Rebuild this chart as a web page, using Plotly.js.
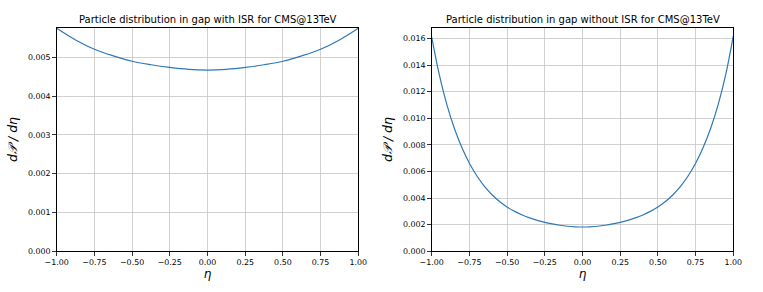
<!DOCTYPE html>
<html>
<head>
<meta charset="utf-8">
<script src="https://cdn.plot.ly/plotly-3.0.1.min.js"></script>
<style>html,body{margin:0;padding:0;background:#fff;}#chart{width:763px;height:292px;}</style>
</head>
<body>
<div id="chart"></div>
<script>
// Left panel: with ISR
const etaWith = [-1.0, -0.875, -0.75, -0.625, -0.5, -0.375, -0.25, -0.125, 0.0, 0.125, 0.25, 0.375, 0.5, 0.625, 0.75, 0.875, 1.0];
const dPWith = [0.00575, 0.00545, 0.00521, 0.00504, 0.00490, 0.00481, 0.00474, 0.00469, 0.00467, 0.00469, 0.00474, 0.00481, 0.00490, 0.00504, 0.00521, 0.00545, 0.00575];

// Right panel: without ISR
const etaWithout = [-1.0, -0.95, -0.9, -0.85, -0.8, -0.75, -0.7, -0.65, -0.6, -0.55, -0.5, -0.45, -0.4, -0.35, -0.3, -0.25, -0.2, -0.15, -0.1, -0.05, 0.0,
  0.05, 0.1, 0.15, 0.2, 0.25, 0.3, 0.35, 0.4, 0.45, 0.5, 0.55, 0.6, 0.65, 0.7, 0.75, 0.8, 0.85, 0.9, 0.95, 1.0];
const dPWithout = [0.0161, 0.0133, 0.01105, 0.00925, 0.0078, 0.00662, 0.00566, 0.00488, 0.00425, 0.00374, 0.00333, 0.0030, 0.00273, 0.00251, 0.00233, 0.00218, 0.00206, 0.00196, 0.001885, 0.00184, 0.001825,
  0.00184, 0.001885, 0.00196, 0.00206, 0.00218, 0.00233, 0.00251, 0.00273, 0.0030, 0.00333, 0.00374, 0.00425, 0.00488, 0.00566, 0.00662, 0.0078, 0.00925, 0.01105, 0.0133, 0.0162];

const titles = ["Particle distribution in gap with ISR for CMS@13TeV", "Particle distribution in gap without ISR for CMS@13TeV"];
const xTicks = [-1.0, -0.75, -0.5, -0.25, 0.0, 0.25, 0.5, 0.75, 1.0];
const yTicksLeft = [0, 0.001, 0.002, 0.003, 0.004, 0.005];
const yTicksRight = [0, 0.002, 0.004, 0.006, 0.008, 0.010, 0.012, 0.014, 0.016];

const W = 763, H = 292;
const font = "DejaVu Sans, sans-serif";
const lineColor = "#2f78b6";

const traces = [
  {x: etaWith, y: dPWith, type: "scatter", mode: "lines", line: {color: lineColor, width: 1.2, shape: "spline"}, xaxis: "x", yaxis: "y", hoverinfo: "skip"},
  {x: etaWithout, y: dPWithout, type: "scatter", mode: "lines", line: {color: lineColor, width: 1.2, shape: "spline"}, xaxis: "x2", yaxis: "y2", hoverinfo: "skip"}
];

function xax(domain, anchor) {
  return {
    domain: domain, anchor: anchor, range: [-1, 1],
    tickmode: "array", tickvals: xTicks, ticktext: xTicks.map(v => (v < 0 ? "\u2212" : "") + Math.abs(v).toFixed(2)),
    ticks: "outside", ticklen: 3.5, tickwidth: 0.8, tickcolor: "#000",
    showline: true, linecolor: "#000", linewidth: 1, mirror: true,
    showgrid: true, gridcolor: "#c4c4c4", gridwidth: 0.8, zeroline: false,
    tickfont: {family: font, size: 7.9, color: "#000"},
    title: {text: "<i>η</i>", font: {family: font, size: 12, color: "#000"}, standoff: 3}
  };
}
function yax(domain, anchor, range, ticks, dec) {
  return {
    domain: domain, anchor: anchor, range: range,
    tickmode: "array", tickvals: ticks, ticktext: ticks.map(v => v.toFixed(dec)),
    ticks: "outside", ticklen: 3.5, tickwidth: 0.8, tickcolor: "#000",
    showline: true, linecolor: "#000", linewidth: 1, mirror: true,
    showgrid: true, gridcolor: "#c4c4c4", gridwidth: 0.8, zeroline: false,
    tickfont: {family: font, size: 7.9, color: "#000"},
    title: {text: "<i>d𝒫 / dη</i>", font: {family: font, size: 12.5, color: "#000"}, standoff: 7}
  };
}

const yDom = [1 - 251.3 / H, 1 - 27.7 / H];
const layout = {
  width: W, height: H,
  margin: {l: 0, r: 0, t: 0, b: 0},
  paper_bgcolor: "#fff", plot_bgcolor: "#fff",
  showlegend: false,
  xaxis: xax([56.7 / W, 358.3 / W], "y"),
  yaxis: yax(yDom, "x", [0, 0.005765], yTicksLeft, 3),
  xaxis2: xax([431.7 / W, 733.3 / W], "y2"),
  yaxis2: yax(yDom, "x2", [0, 0.01681], yTicksRight, 3),
  annotations: [
    {text: titles[0], xref: "paper", yref: "paper", x: 207.5 / W, y: 1 - 19 / H, xanchor: "center", yanchor: "middle", showarrow: false, font: {family: font, size: 10, color: "#000"}},
    {text: titles[1], xref: "paper", yref: "paper", x: 582.5 / W, y: 1 - 19 / H, xanchor: "center", yanchor: "middle", showarrow: false, font: {family: font, size: 10, color: "#000"}}
  ]
};

Plotly.newPlot("chart", traces, layout, {staticPlot: true, displayModeBar: false});
</script>
</body>
</html>
